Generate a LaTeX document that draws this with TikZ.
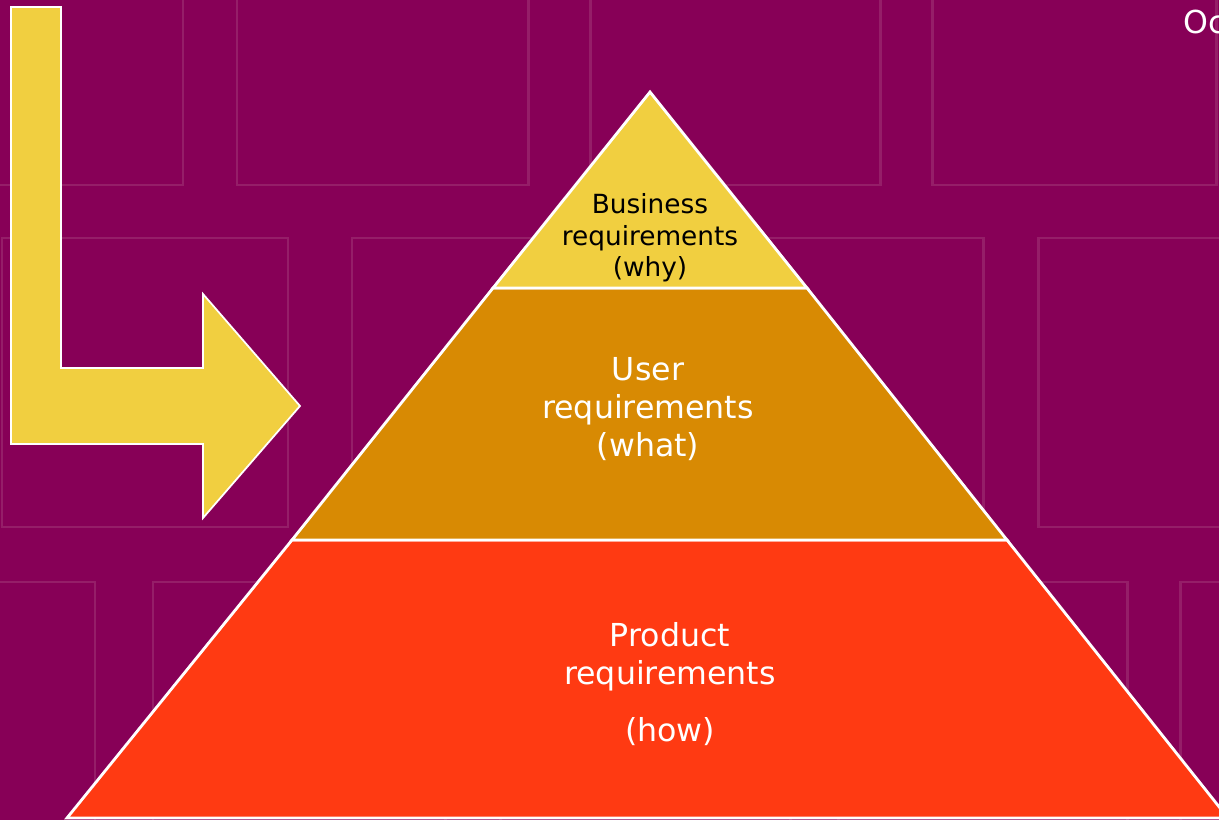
\documentclass[tikz,border=0pt]{standalone}
\usepackage{fontspec}
\setmainfont{DejaVu Sans}
\definecolor{bgpurple}{HTML}{870057}
\definecolor{tileline}{HTML}{951E68}
\definecolor{bizyellow}{HTML}{F1CF40}
\definecolor{usergold}{HTML}{D88A03}
\definecolor{prodred}{HTML}{FF3A12}
\begin{document}
\begin{tikzpicture}[x=0.02cm, y=-0.02cm,
  tile/.style={draw=tileline, line width=1.7pt},
  layer/.style={draw=white, line width=1.6pt, line join=miter},
  lvltext/.style={align=center, text=white, font=\fontsize{18}{21.6}\selectfont}]
  \useasboundingbox[fill=bgpurple] (0,0) rectangle (1219,820);
  \clip (0,0) rectangle (1219,820);

  % background tiles
  \foreach \xa/\ya/\xb/\yb in {-20/-20/183/185, 237/-20/528/185, 590/-20/880/185, 932/-20/1216/185,
      2/238/288/527, 352/238/642/527, 695/238/983/527, 1038/238/1330/527,
      -20/582/95/850, 153/582/445/850, 500/582/790/850, 838/582/1127/850, 1180/582/1330/850}
    \draw[tile] (\xa,\ya) rectangle (\xb,\yb);

  % bent arrow
  \draw[fill=bizyellow, draw=white, line width=1pt]
    (11,7) -- (61,7) -- (61,368) -- (203,368) -- (203,294) -- (300,406)
    -- (203,518) -- (203,444) -- (11,444) -- cycle;

  % pyramid
  \draw[layer, fill=prodred]   (292,540) -- (1007,540) -- (1228,818) -- (67,818) -- cycle;
  \draw[layer, fill=usergold]  (493,288) -- (807,288) -- (1007,540) -- (292,540) -- cycle;
  \draw[layer, fill=bizyellow] (650,92) -- (807,288) -- (493,288) -- cycle;

  \node (business) [align=center, font=\fontsize{15}{18}\selectfont] at (650,238)
    {Business\\requirements\\(why)};
  \node (user) [lvltext] at (648,409) {User\\requirements\\(what)};
  \node (product) [lvltext] at (670,684) {Product\\requirements\\[11pt](how)};
  \node (date) [anchor=west, inner sep=0pt, text=white, font=\fontsize{18}{21.6}\selectfont]
    at (1183,22) {Oc};
\end{tikzpicture}
\end{document}
